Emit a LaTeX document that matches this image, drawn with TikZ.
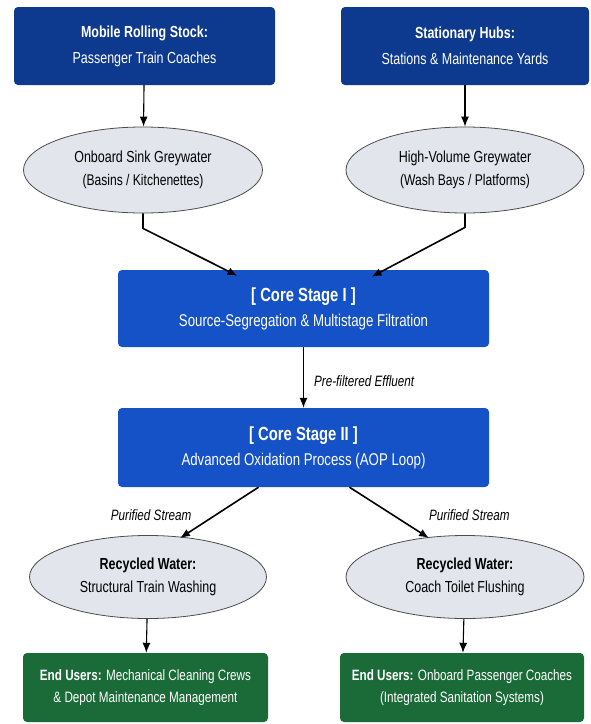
\documentclass[tikz,border=0pt]{standalone}
\usepackage{fontspec}
\setmainfont{Liberation Sans}[FakeStretch=0.78]
\usepackage{tikz}
\usepackage{xcolor}
\usetikzlibrary{arrows.meta,shapes.geometric}

\definecolor{navy}{HTML}{0D3A8E}
\definecolor{coreblue}{HTML}{1552C8}
\definecolor{usergreen}{HTML}{1A6B38}
\definecolor{ellfill}{HTML}{E2E6EC}

\tikzset{
  srcbox/.style={rectangle, rounded corners=4pt, fill=navy, text=white, align=center, inner sep=0pt,
    font=\fontsize{16}{26}\selectfont},
  corebox/.style={rectangle, rounded corners=4pt, fill=coreblue, text=white, align=center, inner sep=0pt,
    font=\fontsize{17}{25}\selectfont},
  userbox/.style={rectangle, rounded corners=4pt, fill=usergreen, text=white, align=center, inner sep=0pt,
    font=\fontsize{15}{22}\selectfont},
  stream/.style={ellipse, draw=black!70, line width=0.8pt, fill=ellfill, align=center, inner sep=0pt,
    font=\fontsize{16}{23}\selectfont},
  flow/.style={-{Latex[length=10pt,width=8pt]}, line width=1.1pt},
  lbl/.style={font=\fontsize{15}{16}\selectfont\itshape, inner sep=0pt}
}

\begin{document}
\begin{tikzpicture}[x=1pt,y=-1pt]
\useasboundingbox (0,0) rectangle (591,724);

% sources
\node [srcbox, minimum width=261pt, minimum height=78pt] (mobile) at (144.5,46)
  {\textbf{Mobile Rolling Stock:}\\Passenger Train Coaches};
\node [srcbox, minimum width=248pt, minimum height=78pt] (hubs) at (465,46)
  {\textbf{Stationary Hubs:}\\Stations \& Maintenance Yards};

\node [stream, minimum width=239pt, minimum height=86pt] (sink) at (143,170)
  {Onboard Sink Greywater\\{\fontsize{15.5}{16}\selectfont (Basins / Kitchenettes)}};
\node [stream, minimum width=238pt, minimum height=86pt] (bulk) at (465,170)
  {High-Volume Greywater\\{\fontsize{15.5}{16}\selectfont (Wash Bays / Platforms)}};

% core stages
\node [corebox, minimum width=371pt, minimum height=77pt] (stageA) at (303.5,308.5)
  {\textbf{\fontsize{19}{22}\selectfont [ Core Stage I ]}\\Source-Segregation \& Multistage Filtration};
\node [corebox, minimum width=371pt, minimum height=79pt] (stageB) at (303.5,447.5)
  {\textbf{\fontsize{19}{22}\selectfont [ Core Stage II ]}\\Advanced Oxidation Process (AOP Loop)};

% reuse
\node [stream, minimum width=237pt, minimum height=83pt] (wash) at (148,577)
  {\textbf{Recycled Water:}\\Structural Train Washing};
\node [stream, minimum width=238pt, minimum height=83pt] (flush) at (465,577)
  {\textbf{Recycled Water:}\\Coach Toilet Flushing};

\node [userbox, minimum width=245pt, minimum height=69pt] (crews) at (145.5,687.5)
  {\textbf{End Users:} Mechanical Cleaning Crews\\\& Depot Maintenance Management};
\node [userbox, minimum width=244pt, minimum height=69pt] (coaches) at (462,687.5)
  {\textbf{End Users:} Onboard Passenger Coaches\\(Integrated Sanitation Systems)};

% connectors
\draw [flow] (mobile) -- (sink);
\draw [flow] (hubs) -- (bulk);
\draw [flow, line width=1.6pt] (sink.south) -- ++(0,15) -- ([xshift=-66pt,yshift=-6pt]stageA.north);
\draw [flow, line width=1.6pt] (bulk.south) -- ++(0,14) -- ([xshift=68pt,yshift=-7pt]stageA.north);
\draw [flow] (stageA) -- node [lbl, right=10pt, yshift=-4pt] {Pre-filtered Effluent} (stageB);
\draw [flow, line width=1.6pt] ([xshift=-45pt]stageB.south) -- node [lbl, left=27pt, yshift=-2pt] {Purified Stream} ([xshift=32pt,yshift=-3pt]wash.north);
\draw [flow, line width=1.6pt] ([xshift=46pt]stageB.south) -- node [lbl, right=39pt, yshift=-2pt] {Purified Stream} ([xshift=-36pt,yshift=-3pt]flush.north);
\draw [flow] (wash) -- (crews);
\draw [flow] (flush) -- (coaches);

\end{tikzpicture}
\end{document}
